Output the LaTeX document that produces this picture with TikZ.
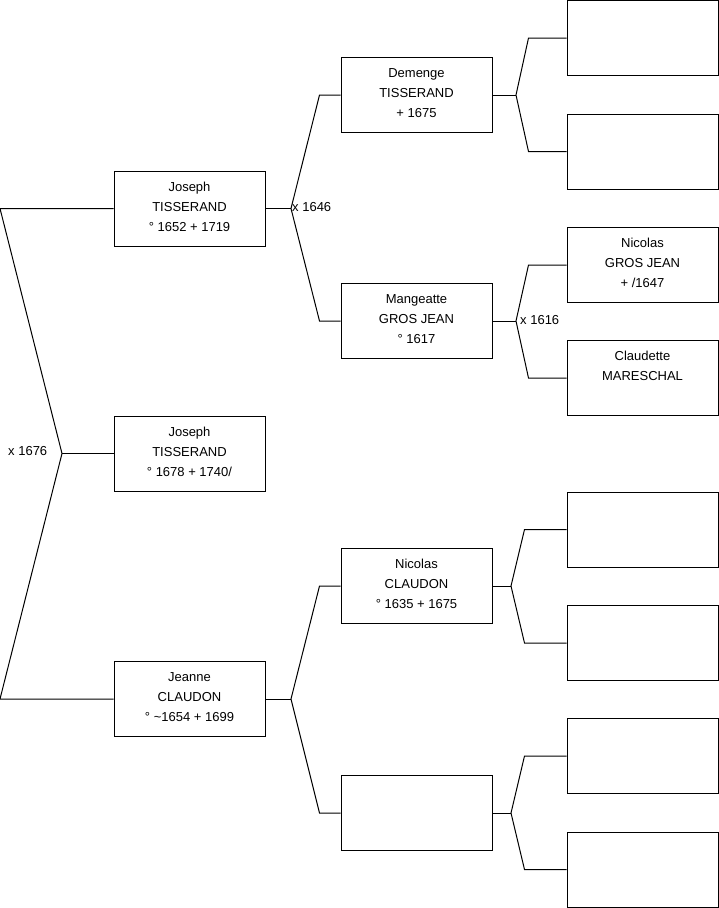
\documentclass[tikz,border=0pt]{standalone}
\usepackage{fontspec}
\setmainfont{Liberation Sans}
\usetikzlibrary{calc}
\begin{document}
\begin{tikzpicture}[x=1pt,y=-1pt,
  person/.style={draw=black, line width=1pt, minimum width=151pt, minimum height=75pt,
    inner sep=0pt, align=center, text depth=4pt, font=\fontsize{13}{20}\selectfont},
  link/.style={draw=black, line width=1pt},
  marr/.style={anchor=west, inner sep=1pt, font=\fontsize{13}{15}\selectfont}]
\useasboundingbox (0,0) rectangle (719,908);
% column 1
\node[person] (p1) at (189.5,208.5) {Joseph\\TISSERAND\\° 1652 + 1719};
\node[person] (p2) at (189.5,453.5) {Joseph\\TISSERAND\\° 1678 + 1740/};
\node[person] (p3) at (189.5,699) {Jeanne\\CLAUDON\\° \textasciitilde1654 + 1699};
% column 2
\node[person] (q1) at (416.5,95) {Demenge\\TISSERAND\\+ 1675};
\node[person] (q2) at (416.5,321) {Mangeatte\\GROS JEAN\\° 1617};
\node[person] (q3) at (416.5,586) {Nicolas\\CLAUDON\\° 1635 + 1675};
\node[person] (q4) at (416.5,813) {};
% column 3
\node[person] (s1) at (642.5,38) {};
\node[person] (s2) at (642.5,151.5) {};
\node[person] (s3) at (642.5,265) {Nicolas\\GROS JEAN\\+ /1647};
\node[person] (s4) at (642.5,378) {Claudette\\MARESCHAL\\\mbox{}};
\node[person] (s5) at (642.5,529.5) {};
\node[person] (s6) at (642.5,643) {};
\node[person] (s7) at (642.5,756) {};
\node[person] (s8) at (642.5,869.5) {};
% root fork
\coordinate (r0) at (0,208.5);
\coordinate (rj) at (62,453.5);
\coordinate (r2) at (0,699);
\draw[link] (p1.west) -- (r0) -- (rj) -- (r2) -- (p3.west);
\draw[link] (rj) -- (p2.west);
\node[marr] (m0) at (7,451) {x 1676};
% column 1 -> column 2
\coordinate (f1) at (291,208.5);
\draw[link] (p1.east) -- (f1);
\draw[link] (q1.west) -- ++(-21,0) -- (f1) -- ($(q2.west)+(-21,0)$) -- (q2.west);
\node[marr] (m1) at (291,207.5) {x 1646};
\coordinate (f3) at (291,699);
\draw[link] (p3.east) -- (f3);
\draw[link] (q3.west) -- ++(-21,0) -- (f3) -- ($(q4.west)+(-21,0)$) -- (q4.west);
% column 2 -> column 3
\coordinate (g1) at (516,95);
\draw[link] (q1.east) -- (g1);
\draw[link] (s1.west) -- ++(-38,0) -- (g1) -- ($(s2.west)+(-38,0)$) -- (s2.west);
\coordinate (g2) at (516,321);
\draw[link] (q2.east) -- (g2);
\draw[link] (s3.west) -- ++(-38,0) -- (g2) -- ($(s4.west)+(-38,0)$) -- (s4.west);
\node[marr] (m2) at (519,320) {x 1616};
\coordinate (g3) at (511,586);
\draw[link] (q3.east) -- (g3);
\draw[link] (s5.west) -- ++(-42,0) -- (g3) -- ($(s6.west)+(-42,0)$) -- (s6.west);
\coordinate (g4) at (511,813);
\draw[link] (q4.east) -- (g4);
\draw[link] (s7.west) -- ++(-42,0) -- (g4) -- ($(s8.west)+(-42,0)$) -- (s8.west);
\end{tikzpicture}
\end{document}
